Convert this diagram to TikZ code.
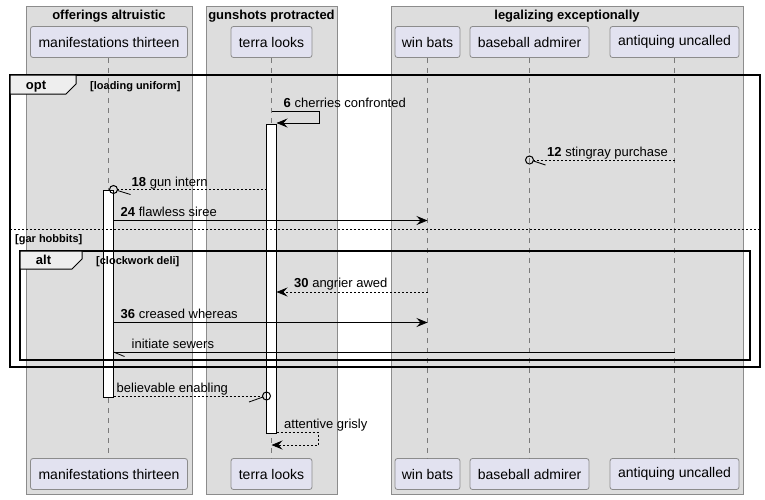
\documentclass[tikz,border=0pt]{standalone}
\usepackage{fontspec}
\setmainfont{Liberation Sans}
\usetikzlibrary{arrows.meta}
\definecolor{grpfill}{HTML}{DDDDDD}
\definecolor{grpdraw}{HTML}{8C8C8C}
\definecolor{partfill}{HTML}{E2E2F0}
\definecolor{partdraw}{HTML}{8C8C8C}
\definecolor{lifeclr}{HTML}{7A7A7A}
\definecolor{tabfill}{HTML}{EEEEEE}
\begin{document}
\begin{tikzpicture}[x=1pt,y=-1pt,
  grp/.style={fill=grpfill, draw=grpdraw, line width=0.8pt},
  part/.style={fill=partfill, draw=partdraw, rounded corners=2.5pt, line width=0.8pt, minimum height=31pt, inner sep=0pt, font=\fontsize{14}{16}\selectfont},
  life/.style={draw=lifeclr, dash pattern=on 5pt off 5pt, line width=0.8pt},
  act/.style={fill=white, draw=black, line width=0.9pt, inner sep=0pt, minimum width=10pt},
  frm/.style={draw=black, line width=1.5pt},
  tabbox/.style={fill=tabfill, draw=black, line width=1pt},
  msg/.style={draw=black, line width=0.8pt},
  reply/.style={msg, dash pattern=on 2pt off 2pt},
  tip/.style={-{Stealth[length=11pt,width=9pt,inset=4pt]}},
  circ/.style={circle, draw=black, line width=1pt, inner sep=0pt, minimum size=8pt},
  lbl/.style={anchor=base west, inner sep=0pt, font=\fontsize{13}{15}\selectfont},
  cond/.style={anchor=base west, inner sep=0pt, font=\bfseries\fontsize{11}{13}\selectfont},
  tabtxt/.style={anchor=base, inner sep=0pt, font=\bfseries\fontsize{13}{15}\selectfont},
  ttl/.style={anchor=base, inner sep=0pt, font=\bfseries\fontsize{13}{15}\selectfont}]
\useasboundingbox (0,0) rectangle (765,499);

% group boxes
\draw[grp] (26,6) rectangle (192,494);
\draw[grp] (206,6) rectangle (337,494);
\draw[grp] (391,6) rectangle (743,494);
\node[ttl] (g1) at (109,19) {offerings altruistic};
\node[ttl] (g2) at (271.5,19) {gunshots protracted};
\node[ttl] (g3) at (567,19) {legalizing exceptionally};

% participants
\node[part, minimum width=157pt] (mt) at (109,42) {manifestations thirteen};
\node[part, minimum width=81pt] (tl) at (271.5,42) {terra looks};
\node[part, minimum width=65pt] (wb) at (427.5,42) {win bats};
\node[part, minimum width=119pt] (ba) at (529.5,42) {baseball admirer};
\node[part, minimum width=129pt] (au) at (674.5,42) {antiquing uncalled};
\node[part, minimum width=157pt] (mtb) at (109,474) {manifestations thirteen};
\node[part, minimum width=81pt] (tlb) at (271.5,474) {terra looks};
\node[part, minimum width=65pt] (wbb) at (427.5,474) {win bats};
\node[part, minimum width=119pt] (bab) at (529.5,474) {baseball admirer};
\node[part, minimum width=129pt] (aub) at (674.5,474) {antiquing uncalled};

% lifelines
\draw[life] (108.5,58) -- (108.5,458);
\draw[life] (tl.south) -- (tlb.north);
\draw[life] (wb.south) -- (wbb.north);
\draw[life] (ba.south) -- (bab.north);
\draw[life] (au.south) -- (aub.north);

% activations
\node[act, minimum height=207pt] (actM) at (108.5,293.5) {};
\node[act, minimum height=309pt] (actT) at (271.5,278.5) {};

% opt frame
\draw[frm] (10,75) rectangle (760,367);
\draw[tabbox] (10,75) -- (76,75) -- (76,84) -- (66,94) -- (10,94) -- cycle;
\node[tabtxt] (optl) at (36,89) {opt};
\node[cond] (optc) at (90,89) {[loading uniform]};
\draw[msg, dash pattern=on 2pt off 2pt, line width=0.9pt] (10,229) -- (760,229);
\node[cond] (elsec) at (15,242) {[gar hobbits]};

% alt frame
\draw[frm] (20,251) rectangle (750,360);
\draw[tabbox] (20,251) -- (82,251) -- (82,259) -- (72,269) -- (20,269) -- cycle;
\node[tabtxt] (altl) at (43.5,264.5) {alt};
\node[cond] (altc) at (96,264.5) {[clockwork deli]};

% message 6 (self)
\coordinate (m6a) at (271.5,111);
\coordinate (m6b) at (319,111);
\coordinate (m6c) at (319,123);
\coordinate (m6d) at (276.5,123);
\draw[msg, tip] (m6a) -- (m6b) -- (m6c) -- (m6d);
\node[lbl] (l6) at (283.5,107) {\textbf{6} cherries confronted};

% message 12
\coordinate (m12a) at (674.5,160);
\node[circ] (c12) at (529.5,160) {};
\draw[reply] (m12a) -- (c12.east);
\draw[msg] ([shift={(4,1)}]c12.center) -- ++(12,4);
\node[lbl] (l12) at (547,156) {\textbf{12} stingray purchase};

% message 18
\coordinate (m18a) at (266.5,189.5);
\node[circ] (c18) at (113.5,189.5) {};
\draw[reply] (m18a) -- (c18.east);
\draw[msg] ([shift={(4,1)}]c18.center) -- ++(13,4);
\node[lbl] (l18) at (131.5,186) {\textbf{18} gun intern};

% message 24
\coordinate (m24a) at (113.5,220.5);
\coordinate (m24b) at (427.5,220.5);
\draw[msg, tip] (m24a) -- (m24b);
\node[lbl] (l24) at (120.5,216) {\textbf{24} flawless siree};

% message 30
\coordinate (m30a) at (427.5,292);
\coordinate (m30b) at (276.5,292);
\draw[reply, tip] (m30a) -- (m30b);
\node[lbl] (l30) at (294,287) {\textbf{30} angrier awed};

% message 36
\coordinate (m36a) at (113.5,322.5);
\coordinate (m36b) at (427.5,322.5);
\draw[msg, tip] (m36a) -- (m36b);
\node[lbl] (l36) at (120.5,318) {\textbf{36} creased whereas};

% initiate sewers
\coordinate (mIa) at (674.5,352);
\coordinate (mIb) at (113.5,352);
\draw[msg] (mIa) -- (mIb);
\draw[msg] (mIb) -- ++(11,4.5);
\node[lbl] (lI) at (131.5,348) {initiate sewers};

% believable enabling
\coordinate (mBa) at (113.5,396);
\node[circ] (cB) at (266.5,396) {};
\draw[reply] (mBa) -- (cB.west);
\draw[msg] ([shift={(-3.5,1)}]cB.center) -- ++(-14,5);
\node[lbl] (lB) at (116.5,392) {believable enabling};

% attentive grisly (self)
\coordinate (mAa) at (276.5,432.5);
\coordinate (mAb) at (318.5,432.5);
\coordinate (mAc) at (318.5,445);
\coordinate (mAd) at (271.5,445);
\draw[reply, tip] (mAa) -- (mAb) -- (mAc) -- (mAd);
\node[lbl] (lA) at (284,428.5) {attentive grisly};
\end{tikzpicture}
\end{document}
